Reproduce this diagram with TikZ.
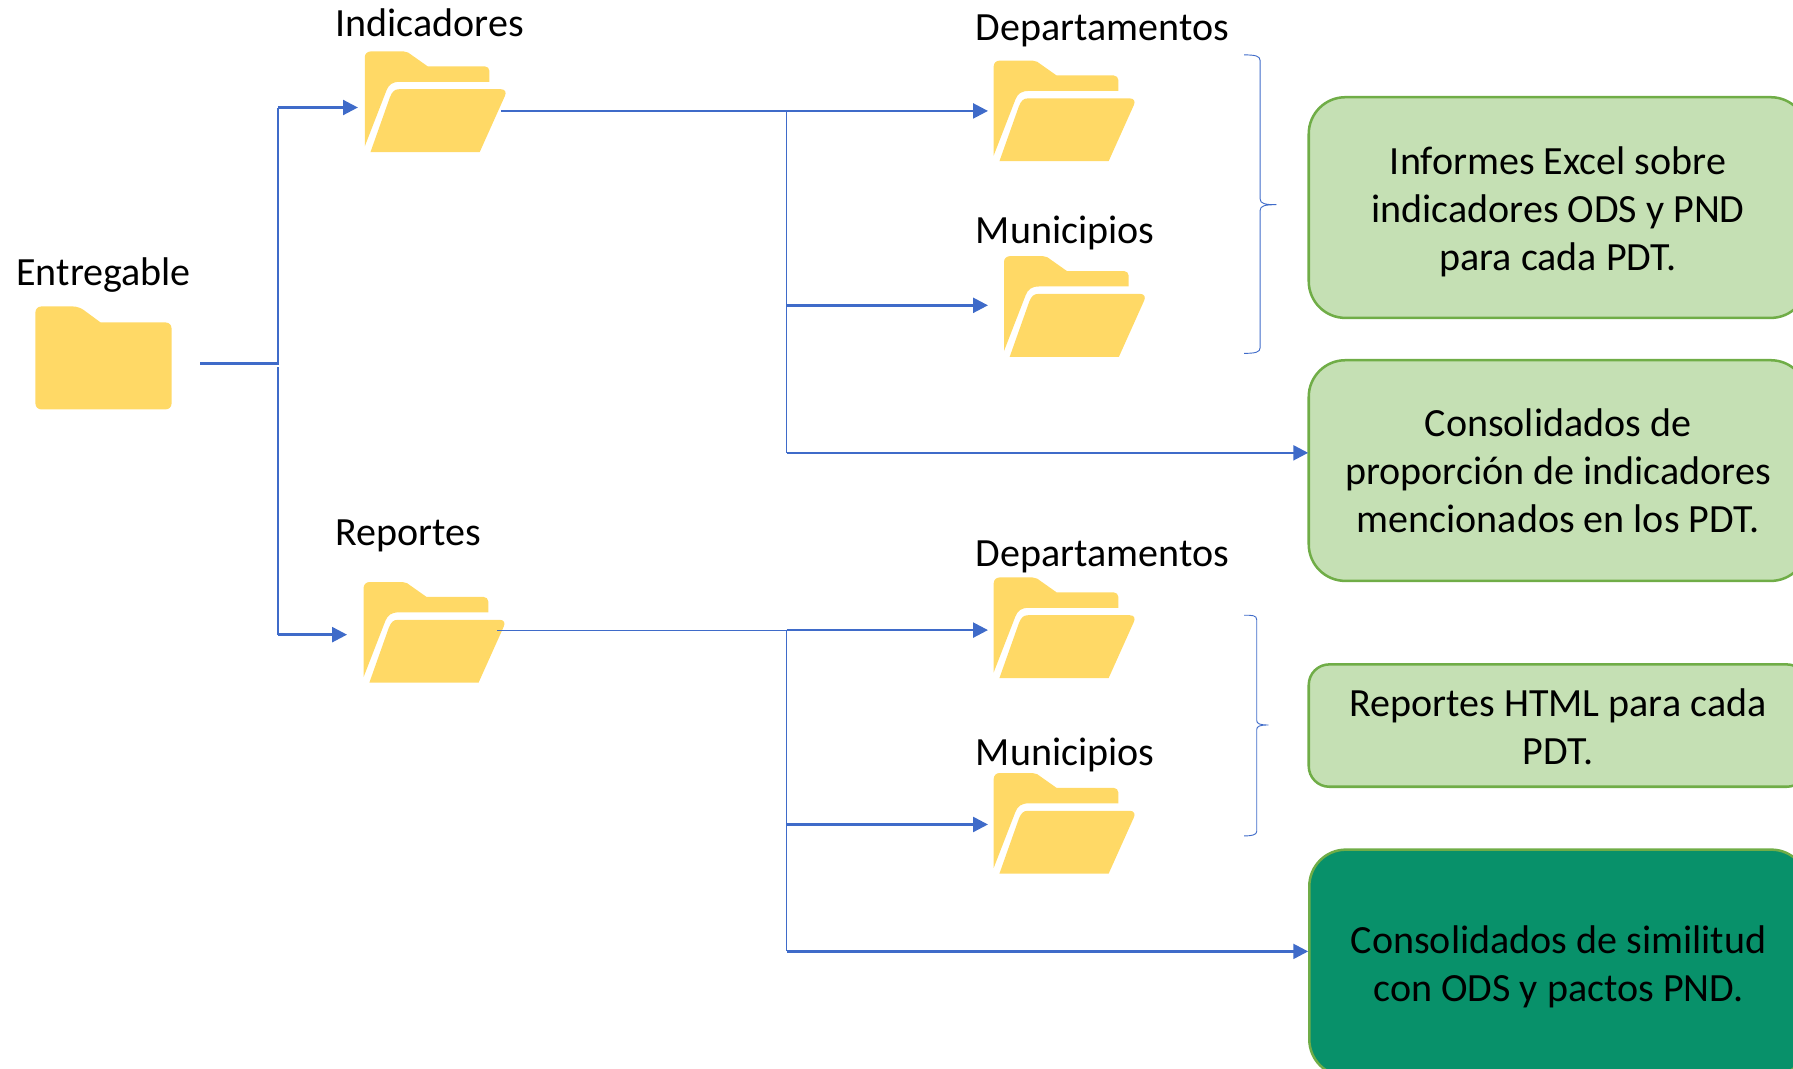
\documentclass[tikz,border=0pt]{standalone}
\usepackage{fontspec}
\setmainfont{Carlito}
\usetikzlibrary{arrows.meta}
\definecolor{folderc}{HTML}{FFD966}
\definecolor{linec}{HTML}{3F6BC9}
\definecolor{boxfill}{HTML}{C5E0B4}
\definecolor{boxline}{HTML}{70AD47}
\definecolor{boxdark}{HTML}{08916A}
\tikzset{
  x=0.5pt,y=-0.5pt,
  lbl/.style={anchor=west,inner sep=0pt,font=\fontsize{17.5}{21}\selectfont,text=black,text height=12pt,text depth=0pt},
  res/.style={draw=boxline,line width=1.1pt,fill=boxfill,align=center,inner sep=0pt,
    font=\fontsize{17.5}{21}\selectfont,text=black,minimum width=218pt},
  wire/.style={draw=linec,line width=1.1pt},
  thin wire/.style={draw=linec,line width=0.5pt},
  arrow wire/.style={wire,-{Triangle[length=6.5pt,width=6.5pt]}},
  brace/.style={draw=linec,line width=0.4pt,line join=round},
  closedfolder/.pic={
    \fill[folderc,rounded corners=2.5pt] (0,0) -- (38,0) [sharp corners] -- (57,14) [rounded corners=2.5pt] -- (119,14) -- (119,90) -- (0,90) -- cycle;
  },
  openfolder/.pic={
    \fill[folderc] (0,83) -- (0,5) arc[start angle=180,end angle=270,radius=5] -- (34,0) -- (38,1) -- (55,13) -- (105,13) arc[start angle=270,end angle=360,radius=4] -- (109,26.5) -- (31,26.5) .. controls (24,26.5) and (21,29) .. (19,34) -- cycle;
    \fill[folderc] (5,88) -- (22,40) .. controls (24,35) and (26,33) .. (30,33) -- (119,33) .. controls (123,33) and (124,36) .. (122.5,39) -- (100.5,88) -- cycle;
  }
}
\begin{document}
\begin{tikzpicture}
\useasboundingbox (0,0) rectangle (1568,934);
\clip (0,0) rectangle (1568,934);

% folders
\pic at (31,268) {closedfolder};
\pic at (319,45) {openfolder};
\pic at (869,53) {openfolder};
\pic at (878,224) {openfolder};
\pic at (318,509) {openfolder};
\pic at (869,505) {openfolder};
\pic at (869,676) {openfolder};

% labels
\node[lbl] (entregable) at (14,238) {Entregable};
\node[lbl] (indicadores) at (293,20) {Indicadores};
\node[lbl] (reportes) at (293,465) {Reportes};
\node[lbl] (depa) at (853,23) {Departamentos};
\node[lbl] (munia) at (853,201) {Municipios};
\node[lbl] (depb) at (853,483) {Departamentos};
\node[lbl] (munib) at (853,657) {Municipios};

% result boxes
\node[res,minimum height=96.5pt,rounded corners=16pt] (informes) at (1362.5,181.5) {\rule{0pt}{15.8pt}Informes Excel sobre\\indicadores ODS y PND\\para cada PDT.};
\node[res,minimum height=96.5pt,rounded corners=16pt] (proporcion) at (1362.5,411.5) {Consolidados de\\proporción de indicadores\\mencionados en los PDT.};
\node[res,minimum height=53.5pt,rounded corners=9pt] (html) at (1362.5,634.5) {\rule{0pt}{13.6pt}Reportes HTML para cada\\PDT.};
\node[res,fill=boxdark,minimum height=99pt,rounded corners=16pt] (similitud) at (1363,842) {\rule{0pt}{15.3pt}Consolidados de similitud\\con ODS y pactos PND.};

% connector points
\coordinate (src) at (175,318);
\coordinate (trunk) at (243,318);
\coordinate (trunkb) at (243,321);
\coordinate (topin) at (313,94);
\coordinate (topturn) at (243,94);
\coordinate (botin) at (303.5,555);
\coordinate (botturn) at (243,555);

\coordinate (aout) at (438,97);
\coordinate (ja) at (688,97);
\coordinate (jb) at (688,267);
\coordinate (jc) at (688,396);
\coordinate (ina) at (864,97);
\coordinate (inb) at (864,267);
\coordinate (inc) at (1144,396);

\coordinate (dout) at (435,551);
\coordinate (jd) at (688,551);
\coordinate (je) at (688,721);
\coordinate (jf) at (688,832);
\coordinate (ind) at (864,551);
\coordinate (ine) at (864,721);
\coordinate (inf) at (1144,832);

% connectors
\draw[wire] (src) -- (trunk) -- (topturn);
\draw[arrow wire] (topturn) -- (topin);
\draw[wire] (trunkb) -- (botturn);
\draw[arrow wire] (botturn) -- (botin);

\draw[thin wire] (aout) -- (ja);
\draw[thin wire,line width=0.6pt] (ja) -- (jc);
\draw[arrow wire] (ja) -- (ina);
\draw[arrow wire] (jb) -- (inb);
\draw[arrow wire] (jc) -- (inc);

\draw[thin wire] (dout) -- (jd);
\draw[thin wire,line width=0.6pt] (jd) -- (jf);
\draw[arrow wire] (jd) -- (ind);
\draw[arrow wire] (je) -- (ine);
\draw[arrow wire] (jf) -- (inf);

% braces
\draw[brace] (1088,48) .. controls (1098,48) and (1102,49) .. (1102,53) -- (1102,174) .. controls (1102,178) and (1106,179) .. (1116,179) .. controls (1106,179) and (1102,180) .. (1102,184) -- (1102,304) .. controls (1102,308) and (1098,309) .. (1088,309);
\draw[brace] (1088,538) .. controls (1095,538) and (1099,538) .. (1099,542) -- (1099,630) .. controls (1099,633) and (1102,634) .. (1109,634) .. controls (1102,634) and (1099,635) .. (1099,638) -- (1099,727) .. controls (1099,730) and (1095,731) .. (1088,731);
\end{tikzpicture}
\end{document}
